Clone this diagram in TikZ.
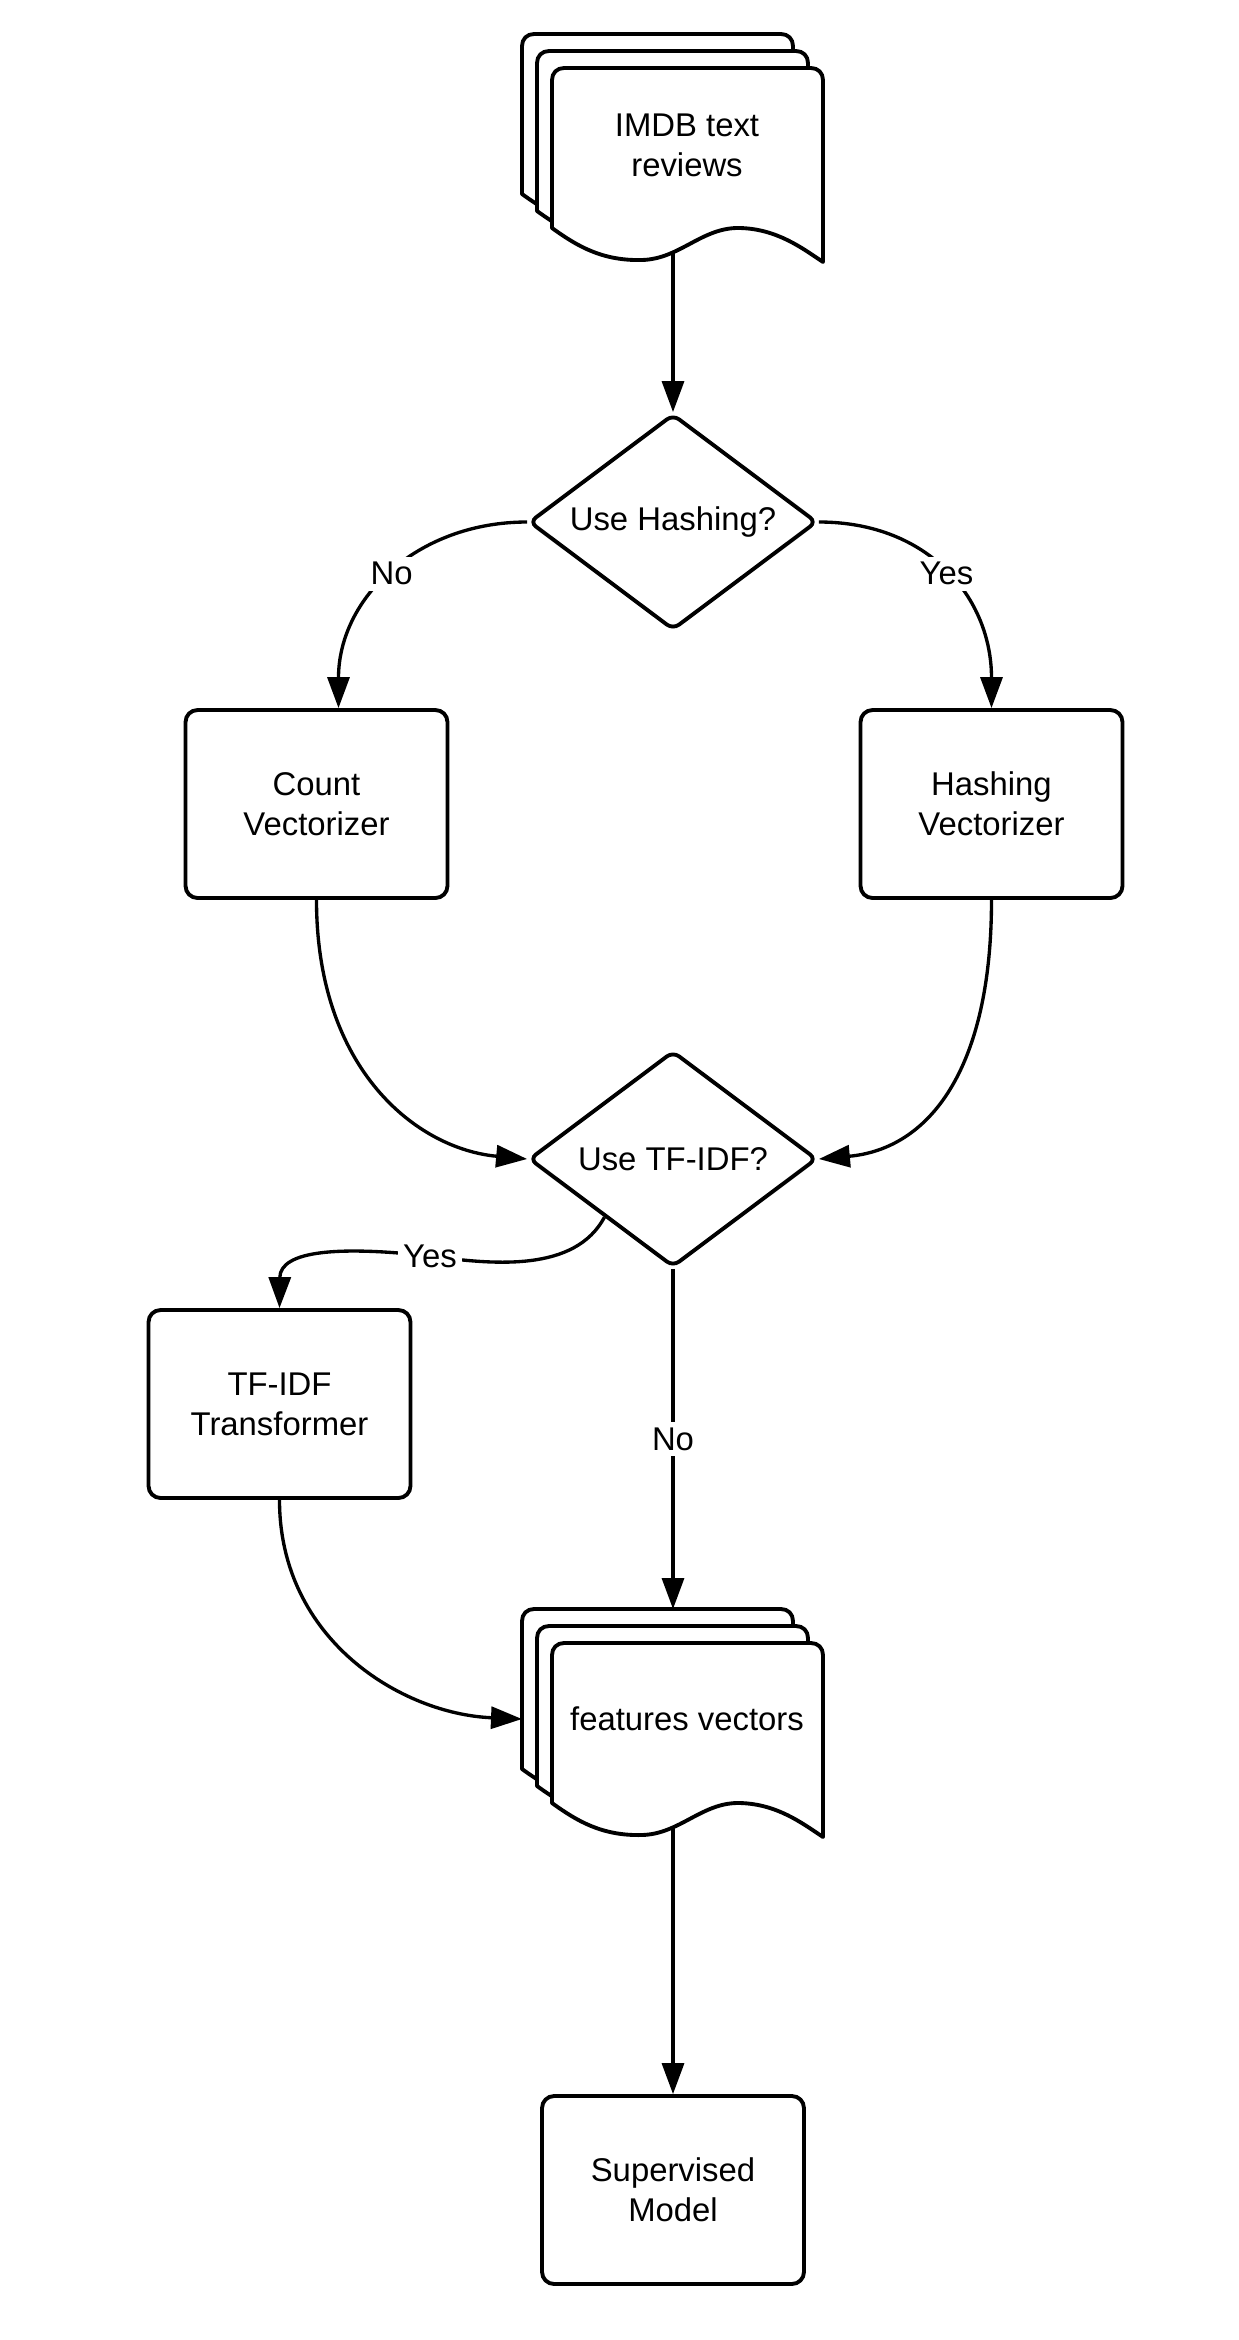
\documentclass[tikz,border=0pt]{standalone}
\usepackage{fontspec}
\setmainfont{Liberation Sans}
\usetikzlibrary{arrows.meta}
\usetikzlibrary{calc, shapes.geometric}

% one sheet of a document stack, top left corner at (#1,#2)
\newcommand{\docpage}[2]{%
  \draw [sheet] (#1,#2+160) -- (#1,#2+12) .. controls (#1,#2+5) and (#1+5,#2) .. (#1+12,#2)
    -- (#1+259,#2) .. controls (#1+266,#2) and (#1+271,#2+5) .. (#1+271,#2+12)
    -- (#1+271,#2+194) .. controls (#1+250,#2+180) and (#1+225,#2+161) .. (#1+188,#2+160)
    .. controls (#1+150,#2+159) and (#1+128,#2+191) .. (#1+90,#2+192)
    .. controls (#1+50,#2+193) and (#1+25,#2+178) .. (#1,#2+160) -- cycle;}

\begin{document}
\begin{tikzpicture}[x=0.02cm, y=-0.02cm,
    every node/.style={font=\fontsize{18.7}{22.8}\selectfont},
    sheet/.style={draw, fill=white, line width=2.2pt, line join=round},
    box/.style={draw, line width=2.2pt, rounded corners=0.24cm, minimum width=5.24cm, minimum height=3.76cm, align=center},
    decision/.style={draw, diamond, line width=2.2pt, rounded corners=0.15cm, aspect=1.33, inner sep=0pt, minimum width=5.76cm, minimum height=4.32cm},
    lbl/.style={fill=white, inner sep=3pt},
    arr/.style={line width=1.9pt, arrows=-{Triangle[length=0.62cm, width=0.44cm]}}]
          \fill [white] (0,0) rectangle (1238,2340);
          \useasboundingbox (0,0) rectangle (1238,2340);

          \docpage{522}{34} \docpage{537}{51} \docpage{552}{68} % IMDB stack
          \node (imdb) [align=center] at (687,145) {IMDB text\\reviews};
          \coordinate (imdb-out) at (673,252);

          \node (hashq) [decision] at (673,522) {Use Hashing?};

          \node (count) [box] at (316.5,804) {Count\\Vectorizer};
          \node (hashv) [box] at (991.5,804) {Hashing\\Vectorizer};

          \node (tfidfq) [decision] at (673,1159) {Use TF-IDF?};

          \node (tfidf) [box] at (279.5,1404) {TF-IDF\\Transformer};

          \docpage{522}{1609} \docpage{537}{1626} \docpage{552}{1643} % features stack
          \node (feat) at (687,1719) {features vectors};
          \coordinate (feat-top) at (673,1609);
          \coordinate (feat-left) at (522,1719);
          \coordinate (feat-out) at (673,1827);

          \node (model) [box] at (673,2190) {Supervised\\Model};

          \coordinate (tfidfq-yes) at ($(tfidfq.west)!0.53!(tfidfq.south)$);

          \draw [arr] (imdb-out) -- (hashq.north);
          \draw [arr] (hashq.west) .. controls +(-110,0) and +(0,-110) .. node [lbl] {No} ([xshift=0.44cm]count.north);
          \draw [arr] (hashq.east) .. controls +(110,0) and +(0,-110) .. node [lbl] {Yes} (hashv.north);

          \draw [arr] (count.south) .. controls +(0,170) and +(-110,-10) .. (tfidfq.west);
          \draw [arr] (hashv.south) .. controls +(0,170) and +(110,-10) .. (tfidfq.east);

          \draw [arr] (tfidfq-yes) .. controls (575,1272) and (495,1265) .. (430,1256) node [lbl] {Yes}
            .. controls (340,1246) and (280,1250) .. (tfidf.north);
          \draw [arr] (tfidfq.south) -- node [lbl] {No} (feat-top);

          \draw [arr] (tfidf.south) .. controls +(0,140) and +(-120,-5) .. (feat-left);
          \draw [arr] (feat-out) -- (model.north);
        \end{tikzpicture}
\end{document}
